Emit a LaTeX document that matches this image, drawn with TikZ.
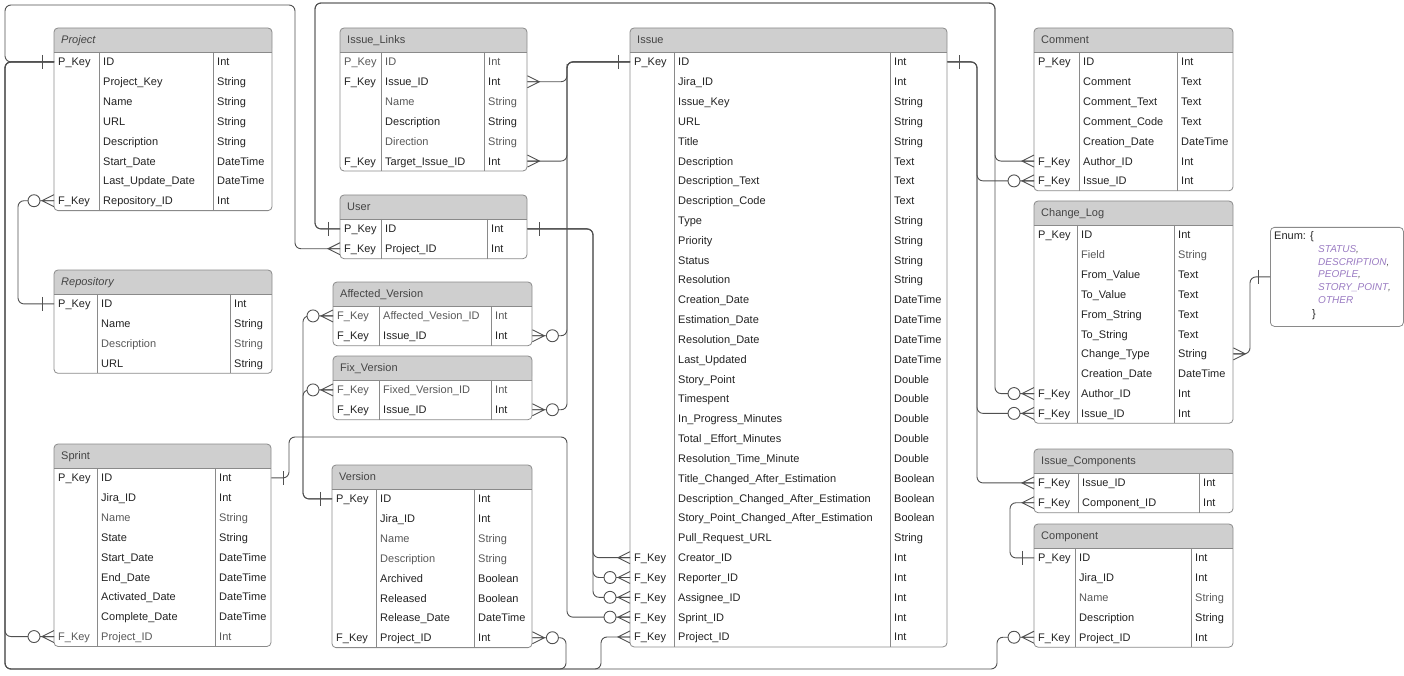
\documentclass[tikz,border=0pt]{standalone}
\usepackage{fontspec}
\setmainfont{Liberation Sans}
\usepackage{xcolor}

\definecolor{dk}{HTML}{222222}
\definecolor{lt}{HTML}{585858}
\definecolor{boxgray}{HTML}{8A8A8A}
\definecolor{hdrgray}{HTML}{CFCFCF}
\definecolor{hdrtext}{HTML}{444444}
\definecolor{linkgray}{HTML}{505050}
\definecolor{enumpurple}{HTML}{9A7BC2}

% table: name, left, top, right, 1st column line, 2nd column line, title, rows
\newcommand{\ertable}[8]{%
  \pgfmathsetmacro{\tw}{#4-#2}
  \fill[hdrgray, rounded corners=4pt] (#2,#3) rectangle (#4,#3+24);
  \fill[hdrgray] (#2,#3+12) rectangle (#4,#3+24);
  \node[title] (#1) at (#2+7,#3+11.5) {#7};
  \foreach \rk/\rf/\rt/\rc [count=\i] in {#8} {
    \pgfmathsetmacro{\ry}{#3+24+(\i-0.5)*19.83}
    \node[row, minimum width=\tw pt] (#1-\i) at (#2,\ry) {};
    \node[cell, text=\rc] (#1-\i-k) at (#2+4,\ry) {\rk};
    \node[cell, text=\rc] (#1-\i-f) at (#5+4,\ry) {\rf};
    \node[cell, text=\rc] (#1-\i-t) at (#6+4,\ry) {\rt};
    \xdef\nrows{\i}
  }
  \pgfmathsetmacro{\tb}{#3+24+\nrows*19.83}
  \draw[tbl] (#2,#3) rectangle (#4,\tb);
  \draw[tbl] (#2,#3+24) -- (#4,#3+24) (#5,#3+24) -- (#5,\tb) (#6,#3+24) -- (#6,\tb);
}

\begin{document}
\begin{tikzpicture}[
    x=1pt, y=-1pt,
    tbl/.style={draw=boxgray, line width=0.8pt, rounded corners=4pt},
    title/.style={anchor=west, inner sep=0pt, text height=7.9pt, text depth=0pt, text=hdrtext, font=\fontsize{11}{13}\selectfont},
    row/.style={anchor=west, inner sep=0pt, minimum height=19.83pt},
    cell/.style={anchor=west, inner sep=0pt, text height=7.9pt, text depth=0pt, font=\fontsize{11}{13}\selectfont},
    link/.style={draw=linkgray, line width=0.9pt, rounded corners=6pt},
    enumbox/.style={draw=boxgray, line width=0.8pt, rounded corners=4pt, anchor=north west, inner sep=0pt},
    enumitem/.style={anchor=west, inner sep=0pt, text height=7.2pt, text depth=0pt, text=enumpurple, font=\fontsize{10}{12}\selectfont\itshape},
    one/.pic={\draw[link] (-12,-7) -- (-12,7);},
    crow/.pic={\draw[link, rounded corners=0pt] (0,-6) -- (-12,0) -- (0,6) (-12,0) -- (0,0);},
    ocrow/.pic={\draw[link, rounded corners=0pt] (0,-6) -- (-12,0) -- (0,6) (-12,0) -- (0,0);
                \draw[link, fill=white] (-20,0) circle (6pt);}
]
    \useasboundingbox (0,0) rectangle (1404,676);

    % Tables
    \ertable{project}{54}{28}{272}{99}{213}{\textit{Project}}{
      P\_Key/ID/Int/dk, /Project\_Key/String/dk, /Name/String/dk, /URL/String/dk,
      /Description/String/dk, /Start\_Date/DateTime/dk, /Last\_Update\_Date/DateTime/dk,
      F\_Key/Repository\_ID/Int/dk}
    \ertable{repository}{54}{270}{272}{97}{230}{\textit{Repository}}{
      P\_Key/ID/Int/dk, /Name/String/dk, /Description/String/lt, /URL/String/dk}
    \ertable{sprint}{54}{444}{271}{97}{215}{Sprint}{
      P\_Key/ID/Int/dk, /Jira\_ID/Int/dk, /Name/String/lt, /State/String/dk,
      /Start\_Date/DateTime/dk, /End\_Date/DateTime/dk, /Activated\_Date/DateTime/dk,
      /Complete\_Date/DateTime/dk, F\_Key/Project\_ID/Int/lt}
    \ertable{links}{340}{28}{527}{381}{484}{Issue\_Links}{
      P\_Key/ID/Int/lt, F\_Key/Issue\_ID/Int/dk, /Name/String/lt, /Description/String/dk,
      /Direction/String/lt, F\_Key/Target\_Issue\_ID/Int/dk}
    \ertable{user}{340}{195}{527}{381}{487}{User}{
      P\_Key/ID/Int/dk, F\_Key/Project\_ID/Int/dk}
    \ertable{affected}{333}{282}{532}{379}{491}{Affected\_Version}{
      F\_Key/Affected\_Vesion\_ID/Int/lt, F\_Key/Issue\_ID/Int/dk}
    \ertable{fix}{333}{356}{532}{379}{491}{Fix\_Version}{
      F\_Key/Fixed\_Version\_ID/Int/lt, F\_Key/Issue\_ID/Int/dk}
    \ertable{version}{332}{465}{532}{376}{474}{Version}{
      P\_Key/ID/Int/dk, /Jira\_ID/Int/dk, /Name/String/lt, /Description/String/lt,
      /Archived/Boolean/dk, /Released/Boolean/dk, /Release\_Date/DateTime/dk,
      F\_Key/Project\_ID/Int/dk}
    \ertable{issue}{630}{28}{947}{674}{890}{Issue}{
      P\_Key/ID/Int/dk, /Jira\_ID/Int/dk, /Issue\_Key/String/dk, /URL/String/dk,
      /Title/String/dk, /Description/Text/dk, /Description\_Text/Text/dk,
      /Description\_Code/Text/dk, /Type/String/dk, /Priority/String/dk,
      /Status/String/dk, /Resolution/String/dk, /Creation\_Date/DateTime/dk,
      /Estimation\_Date/DateTime/dk, /Resolution\_Date/DateTime/dk,
      /Last\_Updated/DateTime/dk, /Story\_Point/Double/dk, /Timespent/Double/dk,
      /In\_Progress\_Minutes/Double/dk, /Total \_Effort\_Minutes/Double/dk,
      /Resolution\_Time\_Minute/Double/dk, /Title\_Changed\_After\_Estimation/Boolean/dk,
      /Description\_Changed\_After\_Estimation/Boolean/dk,
      /Story\_Point\_Changed\_After\_Estimation/Boolean/dk, /Pull\_Request\_URL/String/dk,
      F\_Key/Creator\_ID/Int/dk, F\_Key/Reporter\_ID/Int/dk, F\_Key/Assignee\_ID/Int/dk,
      F\_Key/Sprint\_ID/Int/dk, F\_Key/Project\_ID/Int/dk}
    \ertable{comment}{1034}{28}{1233}{1079}{1177}{Comment}{
      P\_Key/ID/Int/dk, /Comment/Text/dk, /Comment\_Text/Text/dk, /Comment\_Code/Text/dk,
      /Creation\_Date/DateTime/dk, F\_Key/Author\_ID/Int/dk, F\_Key/Issue\_ID/Int/dk}
    \ertable{changelog}{1034}{201}{1233}{1077}{1174}{Change\_Log}{
      P\_Key/ID/Int/dk, /Field/String/lt, /From\_Value/Text/dk, /To\_Value/Text/dk,
      /From\_String/Text/dk, /To\_String/Text/dk, /Change\_Type/String/dk,
      /Creation\_Date/DateTime/dk, F\_Key/Author\_ID/Int/dk, F\_Key/Issue\_ID/Int/dk}
    \ertable{icomp}{1034}{449}{1233}{1078}{1199}{Issue\_Components}{
      F\_Key/Issue\_ID/Int/dk, F\_Key/Component\_ID/Int/dk}
    \ertable{component}{1034}{524}{1233}{1075}{1191}{Component}{
      P\_Key/ID/Int/dk, /Jira\_ID/Int/dk, /Name/String/lt, /Description/String/dk,
      F\_Key/Project\_ID/Int/dk}

    % Enum note
    \node[enumbox, minimum width=133pt, minimum height=99pt] (enum) at (1270,227) {};
    \node[cell, text=dk] (enum-open) at (1274,236) {Enum: \{};
    \foreach \v [count=\j] in {STATUS, DESCRIPTION, PEOPLE, STORY\_POINT, OTHER}
      \node[enumitem] (enum-\j) at (1318,236+12.75*\j) {\v\ifnum\j<5{\color{lt},}\fi};
    \node[cell, text=dk] (enum-close) at (1312,314) {\}};

    % Connections from Project
    \draw[link] (project-1.west) -| (5,5) -- (295,5) |- (user-2.west);
    \draw[link] (project-1.west) -| (5,400) |- (sprint-9.west);
    \draw[link] (project-1.west) -| (5,669) -| (566,650) |- (version-8.east);
    \draw[link] (project-1.west) -| (5,669) -| (601,650) |- (issue-30.west);
    \draw[link] (project-1.west) -| (5,669) -| (997,650) |- (component-5.west);
    \draw[link] (repository-1.west) -| (18,250) |- (project-8.west);

    % Connections from User
    \draw[link] (user-1.west) -| (315,3) -| (995,100) |- (comment-6.west);
    \draw[link] (user-1.west) -| (315,3) -| (995,300) |- (changelog-9.west);
    \draw[link] (user-1.east) -| (593,400) |- (issue-26.west);
    \draw[link] (user-1.east) -| (593,400) |- (issue-27.west);
    \draw[link] (user-1.east) -| (593,400) |- (issue-28.west);

    % Connections from Issue
    \draw[link] (issue-1.west) -| (567,70) |- (links-2.east);
    \draw[link] (issue-1.west) -| (567,100) |- (links-6.east);
    \draw[link] (issue-1.west) -| (567,200) |- (affected-2.east);
    \draw[link] (issue-1.west) -| (567,380) |- (fix-2.east);
    \draw[link] (issue-1.east) -| (977,100) |- (comment-7.west);
    \draw[link] (issue-1.east) -| (977,300) |- (changelog-10.west);
    \draw[link] (issue-1.east) -| (977,450) |- (icomp-1.west);

    % Sprint, Version, Component, Change_Log
    \draw[link] (sprint-1.east) -| (289,437) -| (567,500) |- (issue-29.west);
    \draw[link] (version-1.west) -| (303,400) |- (affected-1.west);
    \draw[link] (version-1.west) -| (303,450) |- (fix-1.west);
    \draw[link] (component-1.west) -| (1010,530) |- (icomp-2.west);
    \draw[link] (changelog-7.east) -| (1250,300) |- (enum.west);

    % End marks
    \pic at (project-1.west) {one};
    \pic at (user-2.west) {crow};
    \pic at (sprint-9.west) {ocrow};
    \pic[rotate=180] at (version-8.east) {ocrow};
    \pic at (issue-30.west) {crow};
    \pic at (component-5.west) {ocrow};
    \pic at (repository-1.west) {one};
    \pic at (project-8.west) {ocrow};
    \pic at (user-1.west) {one};
    \pic[rotate=180] at (user-1.east) {one};
    \pic at (comment-6.west) {crow};
    \pic at (changelog-9.west) {ocrow};
    \pic at (issue-26.west) {crow};
    \pic at (issue-27.west) {ocrow};
    \pic at (issue-28.west) {ocrow};
    \pic at (issue-1.west) {one};
    \pic[rotate=180] at (issue-1.east) {one};
    \pic[rotate=180] at (links-2.east) {crow};
    \pic[rotate=180] at (links-6.east) {crow};
    \pic[rotate=180] at (affected-2.east) {ocrow};
    \pic[rotate=180] at (fix-2.east) {ocrow};
    \pic at (comment-7.west) {ocrow};
    \pic at (changelog-10.west) {ocrow};
    \pic at (icomp-1.west) {crow};
    \pic[rotate=180] at (sprint-1.east) {one};
    \pic at (issue-29.west) {ocrow};
    \pic at (version-1.west) {one};
    \pic at (affected-1.west) {ocrow};
    \pic at (fix-1.west) {ocrow};
    \pic at (component-1.west) {one};
    \pic at (icomp-2.west) {crow};
    \pic[rotate=180] at (changelog-7.east) {crow};
    \pic at (enum.west) {one};
\end{tikzpicture}
\end{document}
